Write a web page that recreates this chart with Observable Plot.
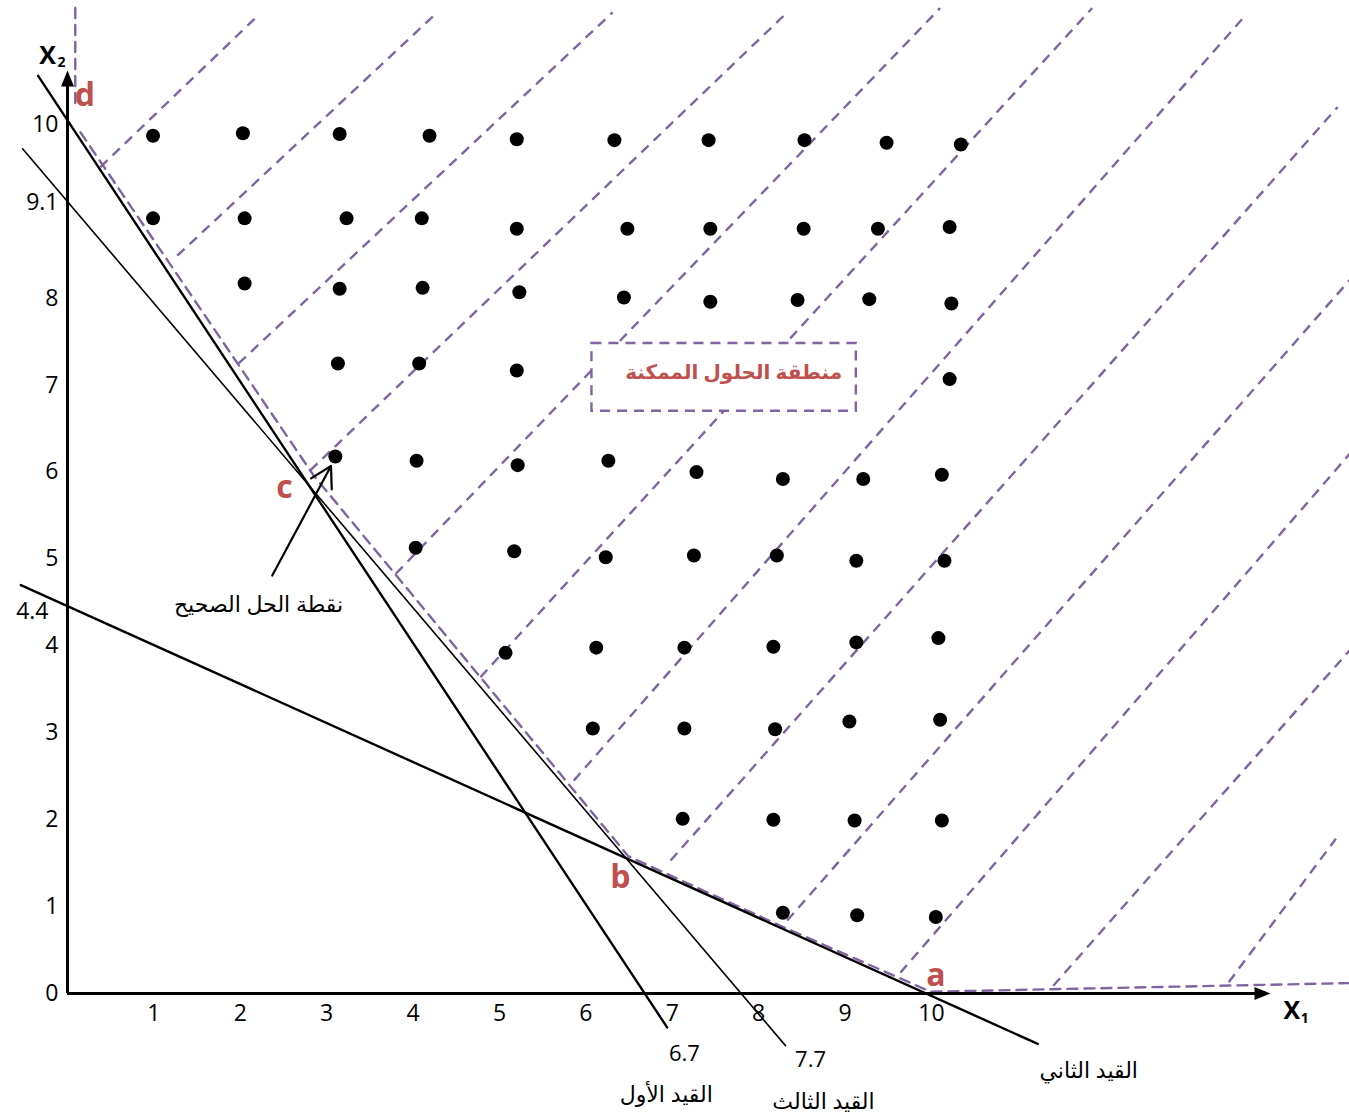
<!DOCTYPE html>
<html><head><meta charset="utf-8">
<script src="https://cdn.jsdelivr.net/npm/d3@7"></script>
<script src="https://cdn.jsdelivr.net/npm/@observablehq/plot@0.6"></script>
<style>body{margin:0;background:#fff}</style>
</head><body><div id="chart"></div>
<script>
// integer points in the feasible region (x1, x2)
const dotX1 = [0.99,2.03,3.15,4.19,5.20,6.33,7.42,8.53,9.48,10.34,
  0.99,2.05,3.23,4.10,5.20,6.48,7.44,8.52,9.38,10.21,
  2.05,3.15,4.11,5.23,6.44,7.44,8.45,9.28,10.23,
  3.13,4.07,5.20,10.21,
  3.10,4.04,5.21,6.26,7.28,8.28,9.21,10.12,
  4.03,5.17,6.23,7.25,8.21,9.13,10.15,
  5.07,6.12,7.14,8.17,9.13,10.08,
  6.08,7.14,8.19,9.05,10.10,
  7.12,8.17,9.11,10.12,
  8.28,9.14,10.05];
const dotX2 = [9.87,9.90,9.89,9.87,9.83,9.82,9.82,9.82,9.79,9.77,
  8.92,8.92,8.92,8.92,8.80,8.80,8.80,8.80,8.80,8.82,
  8.17,8.11,8.12,8.07,8.01,7.96,7.98,7.99,7.94,
  7.25,7.25,7.17,7.07,
  6.18,6.13,6.08,6.13,6.00,5.92,5.92,5.97,
  5.13,5.09,5.02,5.04,5.04,4.98,4.98,
  3.92,3.98,3.98,3.99,4.04,4.09,
  3.05,3.05,3.04,3.13,3.15,
  2.01,2.00,1.99,1.99,
  0.93,0.90,0.88];

// constraint lines (drawn segments)
const constraintNames = ["القيد الأول","القيد الثاني","القيد الثالث"];
const c1X = [-0.34, 6.94], c1Y = [10.56, -0.39];
const c2X = [-0.54, 11.23], c2Y = [4.70, -0.58];
const c3X = [-0.52, 8.31], c3Y = [9.72, -0.60];

// feasible region boundary d-c-b-a
const bVertX = [0.09, 0.09], bVertY = [11.34, 10.24];
const bX = [0.15, 2.85, 6.49, 8.25, 9.99, 14.84];
const bY = [9.91, 5.96, 1.58, 0.78, 0.02, 0.12];

// hatch lines of the feasible region: [x1, y1, x2, y2]
const hatch = [
  [0.38,9.51,2.18,11.23],[1.27,8.49,4.28,11.29],[1.98,7.25,6.31,11.29],
  [2.81,6.02,8.33,11.29],[3.80,4.83,10.10,11.34],[4.78,3.64,11.86,11.34],
  [5.86,2.45,13.61,11.23],[6.98,1.53,14.70,10.20],[8.33,0.84,14.84,8.21],
  [9.64,0.24,14.84,6.21],[11.41,0.09,14.84,3.95],[13.44,0.13,14.68,1.78]
];

const xTicks = [1,2,3,4,5,6,7,8,9,10];
const yTicks = [0,1,2,3,4,5,6,7,8,9.1,10];
const yExtraTick = [4.4];

const cornerLabels = [
  {x:0.20, y:10.33, t:"d"}, {x:2.51, y:5.82, t:"c"},
  {x:6.40, y:1.33, t:"b"}, {x:10.05, y:0.20, t:"a"}
];
const lineLabels = [
  {x:7.14, y:-0.69, t:"6.7"}, {x:6.93, y:-1.17, t:"القيد الأول"},
  {x:8.60, y:-0.77, t:"7.7"}, {x:8.75, y:-1.25, t:"القيد الثالث"},
  {x:11.82, y:-0.89, t:"القيد الثاني"}
];
const optimumLabel = [{x:2.21, y:4.47, t:"نقطة الحل الصحيح"}];
const arrowSeg = [{x1:2.37, y1:4.81, x2:3.05, y2:6.07}];
const regionBox = [{x1:6.07, x2:9.13, y1:6.70, y2:7.48}];
const regionLabel = [{x:7.71, y:7.15, t:"منطقة الحلول الممكنة"}];

const purple = "#8064a2", red = "#c0504d";
const font = "'Open Sans', 'DejaVu Sans', sans-serif";
const seg = (xs, ys) => xs.map((x, i) => ({x, y: ys[i]}));
const headSym = {draw(ctx){ ctx.moveTo(0,-15); ctx.lineTo(6.5,1); ctx.lineTo(-6.5,1); ctx.closePath(); }};
const dash = {stroke: purple, strokeWidth: 2.4, strokeDasharray: "10,7"};

const chart = Plot.plot({
  width: 1349, height: 1120, margin: 0,
  x: {domain: [0, 10], range: [67, 931], axis: null},
  y: {domain: [0, 10], range: [993, 124], axis: null},
  style: {fontFamily: font, background: "#fff", overflow: "hidden"},
  marks: [
    // hatch
    Plot.link(hatch, {x1: d => d[0], y1: d => d[1], x2: d => d[2], y2: d => d[3], ...dash}),
    // boundary
    Plot.line(seg(bVertX, bVertY), {x: "x", y: "y", ...dash}),
    Plot.line(seg(bX, bY), {x: "x", y: "y", ...dash}),
    // region label box
    Plot.rect(regionBox, {x1: "x1", x2: "x2", y1: "y1", y2: "y2", fill: "#fff", ...dash}),
    Plot.text(regionLabel, {x: "x", y: "y", text: "t", fill: red, fontSize: 20, fontWeight: "bold"}),
    // constraint lines
    Plot.line(seg(c1X, c1Y), {x: "x", y: "y", stroke: "#000", strokeWidth: 2.4}),
    Plot.line(seg(c2X, c2Y), {x: "x", y: "y", stroke: "#000", strokeWidth: 2.4}),
    Plot.line(seg(c3X, c3Y), {x: "x", y: "y", stroke: "#000", strokeWidth: 1.6}),
    // axes
    Plot.ruleY([0], {x1: 0, x2: 13.75, stroke: "#000", strokeWidth: 3}),
    Plot.ruleX([0], {y1: 0, y2: 10.45, stroke: "#000", strokeWidth: 3}),
    Plot.dot([{x: 0, y: 10.45}], {x: "x", y: "y", symbol: headSym, fill: "#000", stroke: null, r: 5}),
    Plot.dot([{x: 13.75, y: 0}], {x: "x", y: "y", symbol: headSym, rotate: 90, fill: "#000", stroke: null, r: 5}),
    // ticks
    Plot.text(xTicks, {x: d => d, y: 0, text: d => String(d), dy: 20, fontSize: 23, fill: "#000"}),
    Plot.text(yTicks, {x: 0, y: d => d, text: d => String(d), dx: -9, textAnchor: "end", fontSize: 23, fill: "#000"}),
    Plot.text(yExtraTick, {x: 0, y: d => d, text: d => String(d), dx: -19, textAnchor: "end", fontSize: 23, fill: "#000"}),
    // axis titles
    Plot.text([{x: -0.23, y: 10.79}], {x: "x", y: "y", text: () => "X", fontSize: 25, fontWeight: "bold", fill: "#000"}),
    Plot.text([{x: -0.07, y: 10.71}], {x: "x", y: "y", text: () => "2", fontSize: 14, fontWeight: "bold", fill: "#000"}),
    Plot.text([{x: 14.17, y: -0.20}], {x: "x", y: "y", text: () => "X", fontSize: 25, fontWeight: "bold", fill: "#000"}),
    Plot.text([{x: 14.32, y: -0.29}], {x: "x", y: "y", text: () => "1", fontSize: 14, fontWeight: "bold", fill: "#000"}),
    // points
    Plot.dot(dotX1, {x: d => d, y: (d, i) => dotX2[i], r: 7, fill: "#000", stroke: null}),
    // labels
    Plot.text(cornerLabels, {x: "x", y: "y", text: "t", fill: red, fontSize: 32, fontWeight: "bold"}),
    Plot.text(lineLabels, {x: "x", y: "y", text: "t", fill: "#000", fontSize: 22}),
    Plot.text(optimumLabel, {x: "x", y: "y", text: "t", fill: "#000", fontSize: 22}),
    Plot.arrow(arrowSeg, {x1: "x1", y1: "y1", x2: "x2", y2: "y2", stroke: "#000", strokeWidth: 2.2, headLength: 16})
  ]
});
document.getElementById("chart").appendChild(chart);
</script></body></html>
